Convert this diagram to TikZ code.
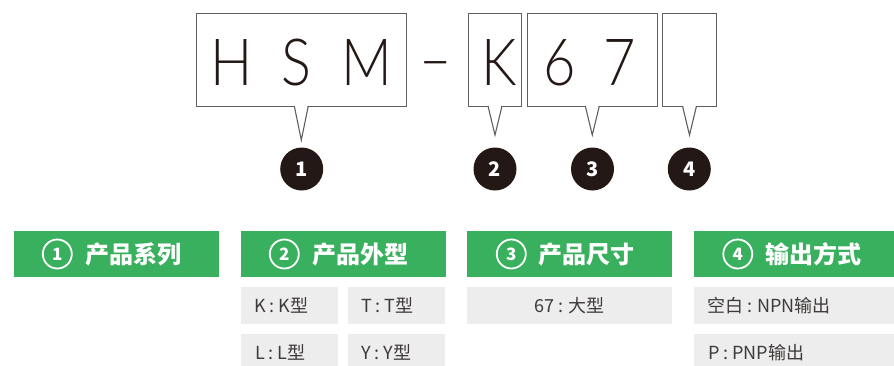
\documentclass[tikz,border=0pt]{standalone}
\usepackage{fontspec}
\setmainfont{Noto Sans CJK SC}
\newfontfamily\thinfont{Lato Light}[FakeStretch=0.86]
\usetikzlibrary{positioning}
\definecolor{hsmgreen}{RGB}{57,176,93}
\definecolor{cellgray}{RGB}{237,237,237}
\definecolor{inkblack}{RGB}{35,24,21}
\definecolor{framegray}{RGB}{95,95,95}
\definecolor{textgray}{RGB}{62,58,57}
\tikzset{
  codebox/.style={draw=framegray, line width=1.1pt, inner sep=0, outer sep=0, minimum height=92.7},
  boxline/.style={draw=framegray, line width=1.1pt},
  codechar/.style={font=\thinfont\fontsize{65}{65}\selectfont, text=inkblack, inner sep=0, anchor=base},
  badge/.style={circle, fill=inkblack, minimum size=43, inner sep=0, text=white, font=\bfseries\fontsize{20}{20}\selectfont},
  headbar/.style={fill=hsmgreen, minimum width=205, minimum height=46, inner sep=0},
  headnum/.style={circle, draw=white, line width=1.8pt, minimum size=29, inner sep=0, text=white, font=\bfseries\fontsize{17}{17}\selectfont},
  headtext/.style={anchor=west, inner sep=0, text=white, font=\bfseries\fontsize{24}{24}\selectfont},
  cell/.style={fill=cellgray, minimum height=37, inner sep=0},
  celltext/.style={anchor=west, inner sep=0, text=textgray, font=\fontsize{18}{18}\selectfont}
}
% callout tip under a code box
\newcommand{\tagpointer}[2]{%
  \fill[white] ([xshift=-6.5pt,yshift=1pt]#1.south) -- ([xshift=6.5pt,yshift=1pt]#1.south) -- ([yshift=-#2pt]#1.south) -- cycle;
  \draw[boxline] ([xshift=-7pt]#1.south) -- ([yshift=-#2pt]#1.south) -- ([xshift=7pt]#1.south);}

\begin{document}
\begin{tikzpicture}[x=1pt, y=-1pt]
\useasboundingbox (0,0) rectangle (894,365);
\clip (0,0) rectangle (894,365);

% model code
\node[codebox, minimum width=209.5] (hsm) at (301.3,59.7) {};
\node[codebox, minimum width=53.4] (shape) at (495,59.7) {};
\node[codebox, minimum width=130] (size) at (592.3,59.7) {};
\node[codebox, minimum width=54.4] (output) at (689.5,59.7) {};
\tagpointer{hsm}{34}
\tagpointer{shape}{29}
\tagpointer{size}{29}
\tagpointer{output}{29}

\node[codechar] (chH) at (231.7,85) {H};
\node[codechar] (chS) at (296.7,85) {S};
\node[codechar] (chM) at (366.7,85) {M};
\node[codechar, anchor=center] (dash) at (435.7,72) {–};
\node[codechar] (chK) at (498.8,85) {K};
\node[codechar] (ch6) at (560,85) {6};
\node[codechar] (ch7) at (620,85) {7};

\node[badge] (b1) at (301.7,169) {1};
\node[badge] (b2) at (495,169) {2};
\node[badge] (b3) at (592.5,169) {3};
\node[badge] (b4) at (689.3,169) {4};

% headers
\node[headbar] (h1) at (116.5,254) {};
\node[headbar] (h2) at (343.5,254) {};
\node[headbar] (h3) at (569.5,254) {};
\node[headbar] (h4) at (796.5,254) {};
\node[headnum] (n1) at ([xshift=43.5pt]h1.west) {1};
\node[headnum] (n2) at ([xshift=43.5pt]h2.west) {2};
\node[headnum] (n3) at ([xshift=44.5pt]h3.west) {3};
\node[headnum] (n4) at ([xshift=44pt]h4.west) {4};
\node[headtext] (t1) at ([xshift=71pt]h1.west) {产品系列};
\node[headtext] (t2) at ([xshift=71pt]h2.west) {产品外型};
\node[headtext] (t3) at ([xshift=71pt]h3.west) {产品尺寸};
\node[headtext] (t4) at ([xshift=71pt]h4.west) {输出方式};

% options
\node[cell, minimum width=97] (cK) at (289.5,305.5) {};
\node[cell, minimum width=97] (cT) at (396.5,305.5) {};
\node[cell, minimum width=97] (cL) at (289.5,352.5) {};
\node[cell, minimum width=97] (cY) at (396.5,352.5) {};
\node[cell, minimum width=205] (c67) at (569.5,305.5) {};
\node[cell, minimum width=205] (cNPN) at (796.5,305.5) {};
\node[cell, minimum width=205] (cPNP) at (796.5,352.5) {};

\node[celltext] at ([xshift=13pt]cK.west) {K : K型};
\node[celltext] at ([xshift=13pt]cT.west) {T : T型};
\node[celltext] at ([xshift=14pt]cL.west) {L : L型};
\node[celltext] at ([xshift=13pt]cY.west) {Y : Y型};
\node[celltext, anchor=center] at (c67) {67 : 大型};
\node[celltext] at ([xshift=13pt]cNPN.west) {空白 : NPN输出};
\node[celltext] at ([xshift=14pt]cPNP.west) {P : PNP输出};
\end{tikzpicture}
\end{document}
